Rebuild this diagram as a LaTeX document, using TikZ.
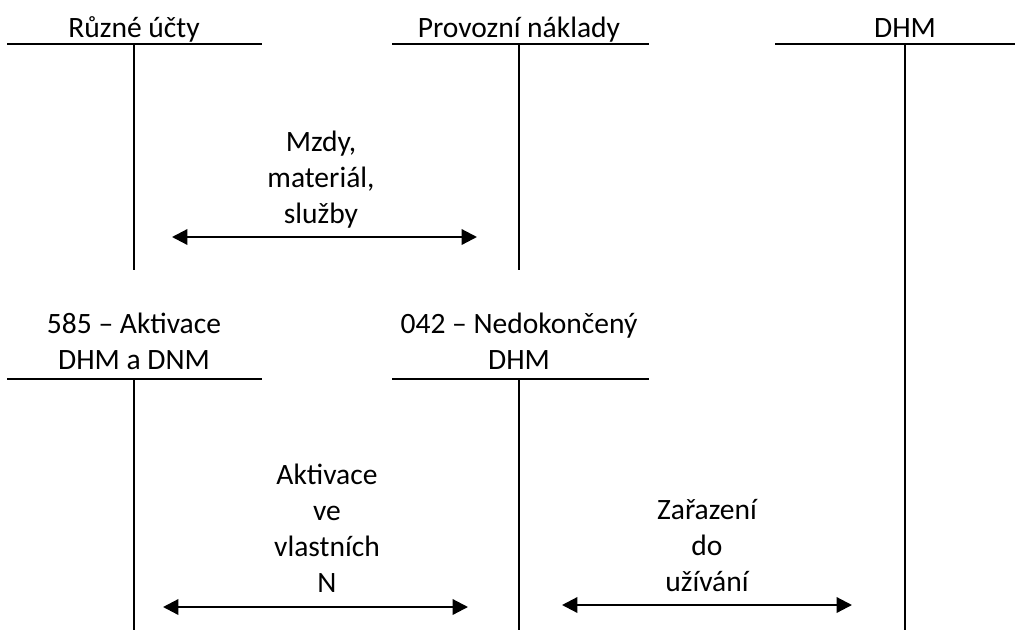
\documentclass[tikz,border=0pt]{standalone}
\usepackage{fontspec}
\setmainfont{Carlito}
\usetikzlibrary{arrows.meta}

\begin{document}
\begin{tikzpicture}[
  x=0.025cm, y=-0.025cm,
  tline/.style={line width=1.6pt, black},
  txt/.style={align=center, font=\fontsize{21}{25.6}\selectfont, inner sep=0pt},
  arr/.style={{Triangle[length=11pt,width=11pt]}-{Triangle[length=11pt,width=11pt]}, line width=1.6pt, black},
]
\useasboundingbox (0,0) rectangle (1020,633);

% ============ upper row ============
\node[txt, anchor=base] (ru) at (134,37) {Různé účty};
\node[txt, anchor=base] (pn) at (519,37) {Provozní náklady};
\node[txt, anchor=base] (dhm) at (905,37) {DHM};

\draw[tline] (7,44) -- (262,44) (134,44) -- (134,270);
\draw[tline] (392,44) -- (649,44) (519,44) -- (519,270);
\draw[tline] (775,44) -- (1015,44) (905,44) -- (905,630);

% ============ lower row ============
\node[txt] (akt) at (134,341) {585 -- Aktivace\\DHM a DNM};
\node[txt] (ned) at (519,341) {042 -- Nedokončený\\DHM};

\draw[tline] (7,379) -- (262,379) (134,379) -- (134,630);
\draw[tline] (392,379) -- (649,379) (519,379) -- (519,630);

% ============ movements ============
\coordinate (m1) at (172,237);
\coordinate (m2) at (477,237);
\coordinate (v1) at (163,607);
\coordinate (v2) at (468,607);
\coordinate (z1) at (562,605);
\coordinate (z2) at (852,605);

\draw[arr] (m1) -- (m2);
\draw[arr] (v1) -- (v2);
\draw[arr] (z1) -- (z2);

\node[txt] (mzdy) at (321,180) {Mzdy,\\materiál,\\služby};
\node[txt] (avn) at (327,528) {Aktivace\\ve\\vlastních\\N};
\node[txt] (zar) at (707,546) {Zařazení\\do\\užívání};
\end{tikzpicture}
\end{document}
